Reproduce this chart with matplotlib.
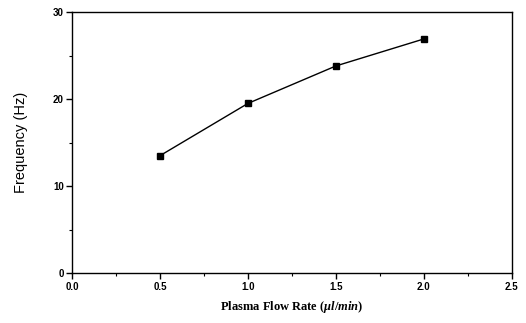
import numpy as np
import matplotlib
matplotlib.use("Agg")
import matplotlib.pyplot as plt
from matplotlib.ticker import MultipleLocator

# flow rate (ul/min) vs. oscillation frequency (Hz)
flow_rate = [0.5, 1.0, 1.5, 2.0]
frequency = [13.5, 19.5, 23.8, 26.9]

x_ticks = [0.0, 0.5, 1.0, 1.5, 2.0, 2.5]
x_tick_labels = ["0.0", "0.5", "1.0", "1.5", "2.0", "2.5"]
y_ticks = [0, 10, 20, 30]

plt.rcParams['mathtext.fontset'] = 'custom'
plt.rcParams['mathtext.rm'] = 'Liberation Serif:bold'
plt.rcParams['mathtext.it'] = 'Liberation Serif:italic:bold'

fig = plt.figure(figsize=(5.26, 3.23), dpi=100)
ax = fig.add_axes([0.137, 0.154, 0.836, 0.809])

ax.plot(flow_rate, frequency, color='black', lw=1.0,
        marker='s', ms=5, mfc='black', mec='black')

ax.set_xlim(0, 2.5)
ax.set_ylim(0, 30)
ax.set_xticks(x_ticks)
ax.set_xticklabels(x_tick_labels)
ax.set_yticks(y_ticks)
ax.xaxis.set_minor_locator(MultipleLocator(0.25))
ax.yaxis.set_minor_locator(MultipleLocator(5))
ax.tick_params(which='major', direction='out', length=4, width=1.0,
               labelsize=7, pad=2)
ax.tick_params(which='minor', direction='out', length=2, width=0.8)
for lbl in ax.get_xticklabels() + ax.get_yticklabels():
    lbl.set_fontweight('bold')
    lbl.set_family('Liberation Sans')
for s in ax.spines.values():
    s.set_linewidth(1.0)

ax.set_ylabel("Frequency (Hz)", family='Liberation Sans', fontsize=10.5,
              labelpad=18)
ax.set_xlabel(r"Plasma Flow Rate ($\mu l/min$)", family='Liberation Serif',
              fontweight='bold', fontsize=9, labelpad=5)

fig.savefig("out.png", dpi=100)
